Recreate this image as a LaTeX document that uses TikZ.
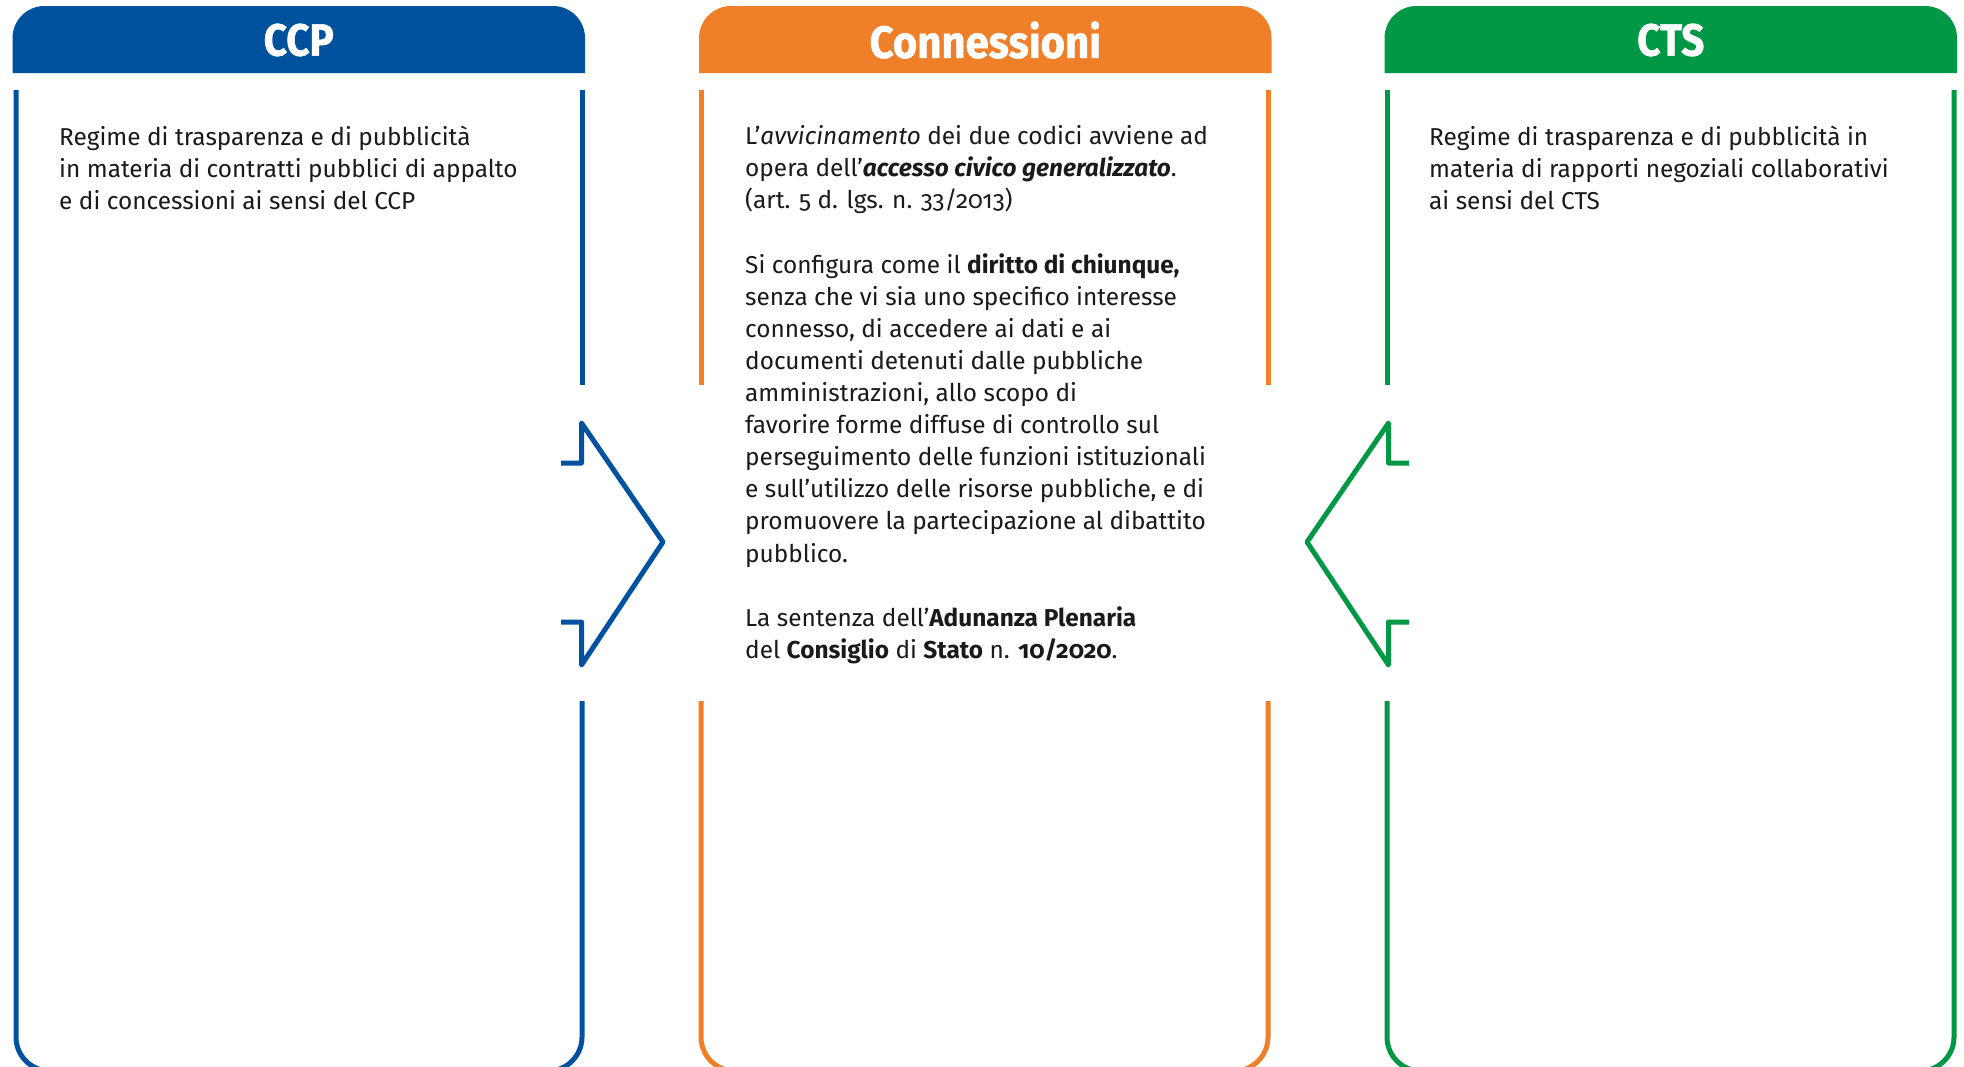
\documentclass[tikz,border=0pt]{standalone}
\usepackage{fontspec}
\usepackage{graphicx}
\setmainfont{Fira Sans}[Numbers=OldStyle]
\newfontfamily\hdrfont{Fira Sans}[BoldFeatures={FakeBold=1.2}]
\definecolor{ccpblue}{RGB}{0,82,159}
\definecolor{conorange}{RGB}{240,127,41}
\definecolor{ctsgreen}{RGB}{0,152,68}
\definecolor{txt}{RGB}{26,26,26}
\tikzset{
  hdrtext/.style={text=white, inner sep=0pt, font=\fontsize{45}{50}\selectfont\hdrfont\bfseries},
  boxline/.style={line width=5pt, line cap=butt, line join=round},
  arrowline/.style={line width=5pt, line join=round, line cap=butt},
  bodytext/.style={anchor=north west, inner sep=0pt, align=left, text=txt,
    font=\fontsize{24.4}{32.1}\selectfont},
}
\newcommand{\hdrshape}[3]{% x left, x right, colour
  \fill[#3] (#1,-73) -- (#1,-38) arc[start angle=180,end angle=90,radius=32]
    -- ({#2-32},-6) arc[start angle=90,end angle=0,radius=32] -- (#2,-73) -- cycle;}
\begin{document}
\begin{tikzpicture}[x=1pt,y=1pt]
\useasboundingbox (0,0) rectangle (1964,-1066);
\clip (0,0) rectangle (1964,-1066);
\fill[white] (0,0) rectangle (1964,-1066);

% headers
\hdrshape{12.5}{585}{ccpblue}
\hdrshape{699}{1271.5}{conorange}
\hdrshape{1384.5}{1957}{ctsgreen}
\node[hdrtext] (hccp) at (298.75,-40) {\scalebox{0.9}[1]{CCP}};
\node[hdrtext] (hcon) at (985.25,-40) {\scalebox{0.93}[1]{Connessioni}};
\node[hdrtext] (hcts) at (1670.75,-40) {\scalebox{0.9}[1]{CTS}};

% CCP box
\draw[boxline, ccpblue] (16,-90) -- (16,-1037) arc[start angle=180,end angle=270,radius=34]
  -- (548,-1071) arc[start angle=270,end angle=360,radius=34] -- (582,-701);
\draw[boxline, ccpblue] (582,-90) -- (582,-385);
% Connessioni box
\draw[boxline, conorange] (701,-90) -- (701,-385);
\draw[boxline, conorange] (701,-701) -- (701,-1037) arc[start angle=180,end angle=270,radius=34]
  -- (1234,-1071) arc[start angle=270,end angle=360,radius=34] -- (1268,-701);
\draw[boxline, conorange] (1268,-90) -- (1268,-385);
% CTS box
\draw[boxline, ctsgreen] (1387,-90) -- (1387,-385);
\draw[boxline, ctsgreen] (1387,-701) -- (1387,-1037) arc[start angle=180,end angle=270,radius=34]
  -- (1920,-1071) arc[start angle=270,end angle=360,radius=34] -- (1954,-90);

% arrows
\draw[arrowline, ccpblue] (561,-463) -- (581.5,-463) -- (581.5,-423) -- (663,-542)
  -- (581.5,-665) -- (581.5,-622) -- (561,-622);
\draw[arrowline, ctsgreen] (1409,-463) -- (1388.5,-463) -- (1388.5,-423) -- (1307,-542)
  -- (1388.5,-665) -- (1388.5,-622) -- (1409,-622);

% texts
\node[bodytext] (tccp) at (59,-125.5) {Regime di trasparenza e di pubblicità\\
in materia di contratti pubblici di appalto\\
e di concessioni ai sensi del CCP};

\node[bodytext] (tcon) at (745,-125.5) {L’\textit{avvicinamento} dei due codici avviene ad\\
opera dell’\textbf{\textit{accesso civico generalizzato}}.\\
(art. 5 d. lgs. n. 33/2013)\\[32.1pt]
Si configura come il \textbf{diritto di chiunque,}\\
senza che vi sia uno specifico interesse\\
connesso, di accedere ai dati e ai\\
documenti detenuti dalle pubbliche\\
amministrazioni, allo scopo di\\
favorire forme diffuse di controllo sul\\
perseguimento delle funzioni istituzionali\\
e sull’utilizzo delle risorse pubbliche, e di\\
promuovere la partecipazione al dibattito\\
pubblico.\\[32.1pt]
La sentenza dell’\textbf{Adunanza Plenaria}\\
del \textbf{Consiglio} di \textbf{Stato} n. \textbf{10/2020}.};

\node[bodytext] (tcts) at (1429,-125.5) {Regime di trasparenza e di pubblicità in\\
materia di rapporti negoziali collaborativi\\
ai sensi del CTS};
\end{tikzpicture}
\end{document}
